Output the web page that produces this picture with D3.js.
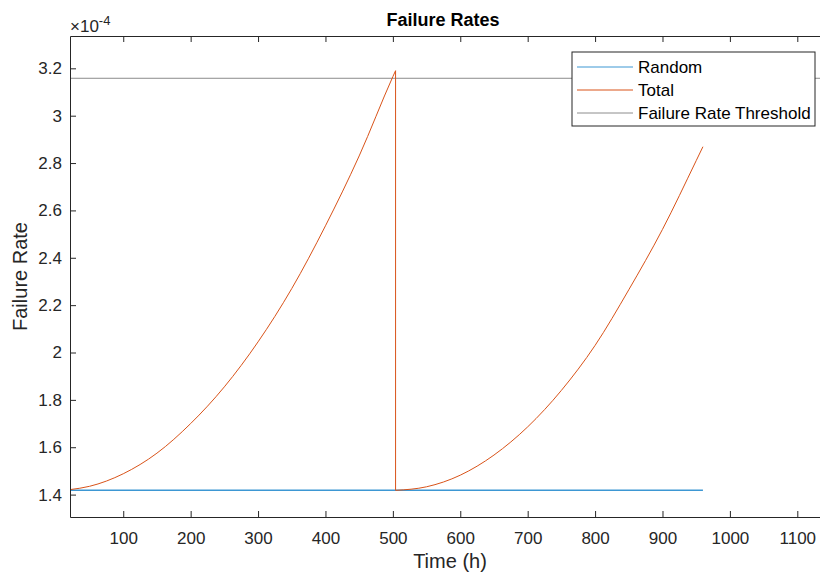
<!DOCTYPE html>
<html>
<head>
<meta charset="utf-8">
<script src="https://cdn.jsdelivr.net/npm/d3@7"></script>
<style>
  body { margin: 0; background: #fff; }
  svg { display: block; font-family: "Liberation Sans", Arial, sans-serif; }
  .axis path, .axis line { stroke: #262626; }
  .axis text { fill: #262626; font-size: 17px; }
</style>
</head>
<body>
<svg id="chart" width="820" height="576"></svg>
<script>
const W = 820, H = 576
const margin = { left: 70, top: 36, right: -11, bottom: 59 }

// values (failure rate in units of 1e-4)
const randomTime = [21, 960]
const randomRate = [1.418, 1.418]

const totalTime1 = [21, 50, 100, 150, 200, 250, 300, 350, 400, 450, 500, 504]
const totalRate1 = [1.421, 1.435, 1.488, 1.575, 1.70, 1.855, 2.045, 2.27, 2.535, 2.83, 3.165, 3.19]
const totalTime2 = [504, 550, 600, 650, 700, 750, 800, 850, 900, 950, 960]
const totalRate2 = [1.418, 1.433, 1.482, 1.567, 1.686, 1.84, 2.03, 2.265, 2.52, 2.81, 2.869]

const thresholdRate = 3.158

const xTicks = [100, 200, 300, 400, 500, 600, 700, 800, 900, 1000, 1100]
const yTicks = [1.4, 1.6, 1.8, 2, 2.2, 2.4, 2.6, 2.8, 3, 3.2]

const legendNames = ['Random', 'Total', 'Failure Rate Threshold']
const colors = ['#3d97d3', '#D95319', '#8c8c8c']

const x = d3.scaleLinear().domain([21, 1150]).range([margin.left, W - margin.right])
const y = d3.scaleLinear().domain([1.3054, 3.3365]).range([H - margin.bottom, margin.top])

const svg = d3.select('#chart')
const x0 = margin.left, x1 = W - margin.right, y0 = H - margin.bottom, y1 = margin.top

// lines
const zip = (t, v) => t.map((d, i) => [d, v[i]])
const line = d3.line().x(d => x(d[0])).y(d => y(d[1]))
const smooth = d3.line().x(d => x(d[0])).y(d => y(d[1])).curve(d3.curveMonotoneX)

const plot = svg.append('g')

plot.append('path')
    .attr('d', line([[21, thresholdRate], [1150, thresholdRate]]))
    .attr('fill', 'none').attr('stroke', colors[2]).attr('stroke-width', 1)

plot.append('path')
    .attr('d', line(zip(randomTime, randomRate)))
    .attr('fill', 'none').attr('stroke', colors[0]).attr('stroke-width', 1.5)

// total: two smooth segments joined by the vertical drop
const seg1 = smooth(zip(totalTime1, totalRate1))
const seg2 = smooth(zip(totalTime2, totalRate2)).replace(/^M/, 'L')
plot.append('path')
    .attr('d', seg1 + seg2)
    .attr('fill', 'none').attr('stroke', colors[1]).attr('stroke-width', 1)

// axes
const tick = 6
svg.append('g').classed('axis', true)
    .attr('transform', `translate(0,${y0})`)
    .call(d3.axisBottom(x).tickValues(xTicks).tickSizeInner(-tick).tickSizeOuter(0).tickPadding(15)
        .tickFormat(d3.format('d')))

svg.append('g').classed('axis', true)
    .attr('transform', `translate(0,${y1})`)
    .call(d3.axisTop(x).tickValues(xTicks).tickSizeInner(-tick).tickSizeOuter(0).tickFormat(''))

svg.append('g').classed('axis', true)
    .attr('transform', `translate(${x0},0)`)
    .call(d3.axisLeft(y).tickValues(yTicks).tickSizeInner(-tick).tickSizeOuter(0).tickPadding(8)
        .tickFormat(d3.format('~g')))

svg.append('g').classed('axis', true)
    .attr('transform', `translate(${x1},0)`)
    .call(d3.axisRight(y).tickValues(yTicks).tickSizeInner(-tick).tickSizeOuter(0).tickFormat(''))

// exponent
const ex = svg.append('text')
    .attr('x', 70).attr('y', 32)
    .attr('fill', '#262626').attr('font-size', 17)
ex.append('tspan').text('×10')
ex.append('tspan').attr('dy', -7).attr('font-size', 13).text('-4')

// title and labels
svg.append('text')
    .attr('x', 443).attr('y', 26)
    .attr('text-anchor', 'middle')
    .attr('font-size', 18).attr('font-weight', 'bold').attr('fill', '#000')
    .text('Failure Rates')

svg.append('text')
    .attr('x', 450).attr('y', 568)
    .attr('text-anchor', 'middle')
    .attr('font-size', 20).attr('fill', '#262626')
    .text('Time (h)')

svg.append('text')
    .attr('transform', `translate(27,${(y0 + y1) / 2}) rotate(-90)`)
    .attr('text-anchor', 'middle')
    .attr('font-size', 20).attr('fill', '#262626')
    .text('Failure Rate')

// legend
const lg = svg.append('g').attr('transform', 'translate(572,52)')
lg.append('rect')
    .attr('width', 243).attr('height', 74)
    .attr('fill', '#fff').attr('stroke', '#262626').attr('stroke-width', 1)

const rows = lg.selectAll('g.row')
    .data(legendNames)
    .enter()
    .append('g').classed('row', true)
    .attr('transform', (d, i) => `translate(0,${15 + i * 23})`)

rows.append('line')
    .attr('x1', 5).attr('x2', 61)
    .attr('stroke', (d, i) => colors[i]).attr('stroke-width', 1)

rows.append('text')
    .attr('x', 66).attr('y', 6)
    .attr('font-size', 17).attr('fill', '#000')
    .text(d => d)
</script>
</body>
</html>
